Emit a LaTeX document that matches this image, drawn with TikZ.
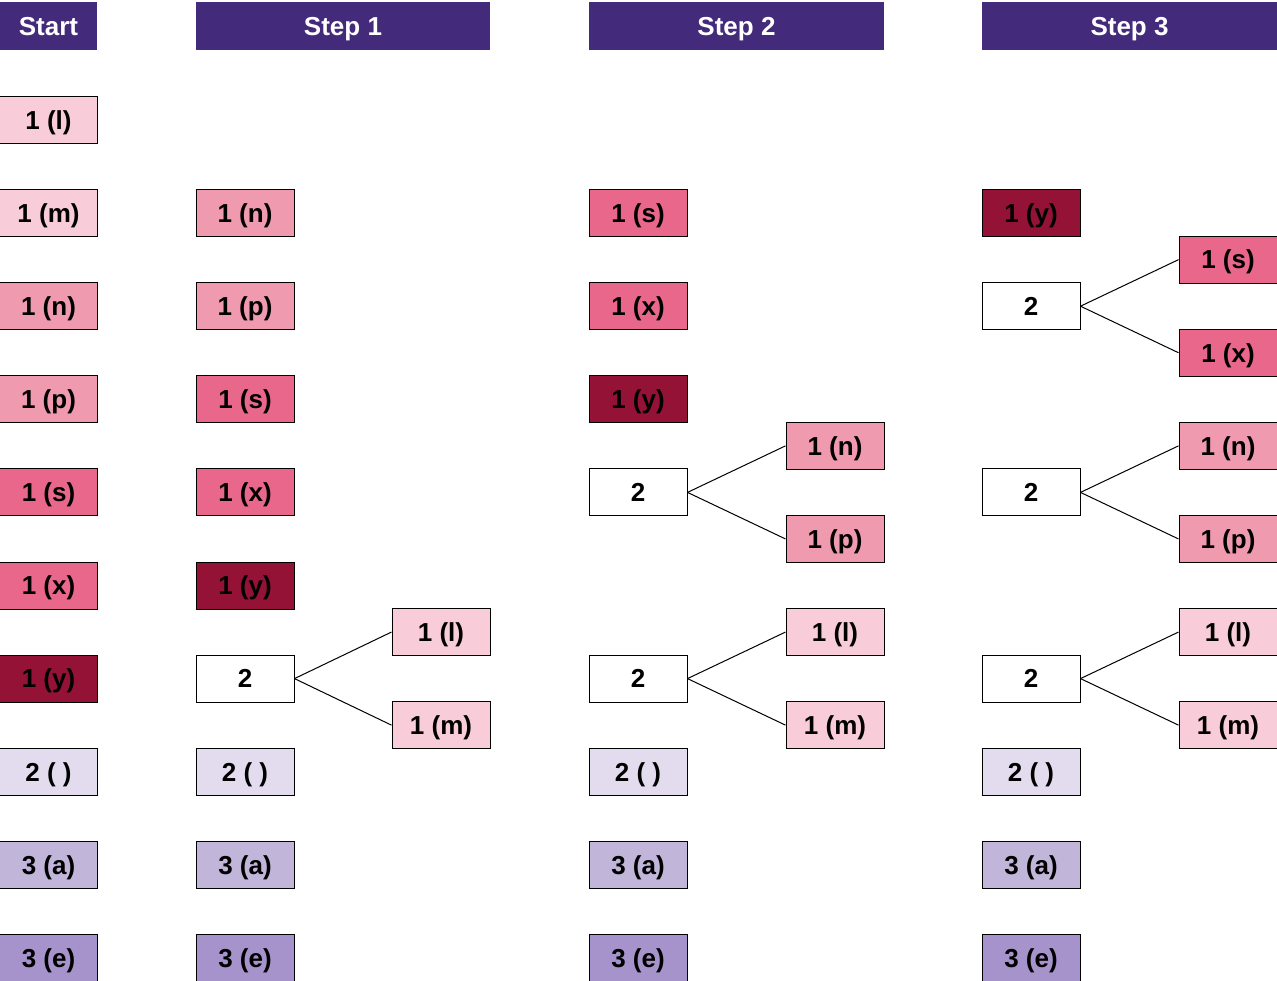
\documentclass[tikz,border=0pt]{standalone}
\usepackage{fontspec}
\setmainfont{Liberation Sans}
\definecolor{hdr}{HTML}{432A7A}
\definecolor{cl}{HTML}{F8CCD9}
\definecolor{cn}{HTML}{F09AB0}
\definecolor{cs}{HTML}{E9678A}
\definecolor{cy}{HTML}{931236}
\definecolor{ctwo}{HTML}{E2DCEE}
\definecolor{ca}{HTML}{C2B5DA}
\definecolor{ce}{HTML}{A793CB}
\tikzset{
  box/.style={draw=black, line width=1pt, minimum width=98pt, minimum height=47pt, inner sep=0pt,
    text height=18.6pt, text depth=0pt,
    font=\fontsize{26}{30}\selectfont\bfseries, text=black},
  hd/.style={fill=hdr, minimum height=48pt, inner sep=0pt, text height=18.6pt, text depth=0pt,
    text=white, font=\fontsize{26}{30}\selectfont\bfseries},
  bl/.style={box, fill=cl}, bn/.style={box, fill=cn}, bs/.style={box, fill=cs}, by/.style={box, fill=cy},
  bt/.style={box, fill=ctwo}, ba/.style={box, fill=ca}, be/.style={box, fill=ce}, bw/.style={box, fill=white},
  con/.style={draw=black, line width=1pt}
}
\begin{document}
\begin{tikzpicture}[x=1pt, y=-1pt]
\useasboundingbox (0,0) rectangle (1277,981);
\clip (0,0) rectangle (1277,981);
\def\R#1{\fpeval{120+93.1*(#1)}}
% headers
\node[hd, minimum width=97pt] (h0) at (48.5,26) {Start};
\node[hd, minimum width=294pt] (h1) at (343,26) {Step 1};
\node[hd, minimum width=295pt] (h2) at (736.5,26) {Step 2};
\node[hd, minimum width=295pt] (h3) at (1129.5,26) {Step 3};
% Start column
\node[bl] (s0) at (48.5,\R{0}) {1 (l)};
\node[bl] (s1) at (48.5,\R{1}) {1 (m)};
\node[bn] (s2) at (48.5,\R{2}) {1 (n)};
\node[bn] (s3) at (48.5,\R{3}) {1 (p)};
\node[bs] (s4) at (48.5,\R{4}) {1 (s)};
\node[bs] (s5) at (48.5,\R{5}) {1 (x)};
\node[by] (s6) at (48.5,\R{6}) {1 (y)};
\node[bt] (s7) at (48.5,\R{7}) {2 ( )};
\node[ba] (s8) at (48.5,\R{8}) {3 (a)};
\node[be] (s9) at (48.5,\R{9}) {3 (e)};
% Step 1
\node[bn] (a1) at (245,\R{1}) {1 (n)};
\node[bn] (a2) at (245,\R{2}) {1 (p)};
\node[bs] (a3) at (245,\R{3}) {1 (s)};
\node[bs] (a4) at (245,\R{4}) {1 (x)};
\node[by] (a5) at (245,\R{5}) {1 (y)};
\node[bw] (a6) at (245,\R{6}) {2};
\node[bl] (a6u) at (441,\R{5.5}) {1 (l)};
\node[bl] (a6d) at (441,\R{6.5}) {1 (m)};
\node[bt] (a7) at (245,\R{7}) {2 ( )};
\node[ba] (a8) at (245,\R{8}) {3 (a)};
\node[be] (a9) at (245,\R{9}) {3 (e)};
\draw[con] (a6.east) -- (a6u.west);
\draw[con] (a6.east) -- (a6d.west);
% Step 2
\node[bs] (b1) at (638,\R{1}) {1 (s)};
\node[bs] (b2) at (638,\R{2}) {1 (x)};
\node[by] (b3) at (638,\R{3}) {1 (y)};
\node[bw] (b4) at (638,\R{4}) {2};
\node[bn] (b4u) at (835,\R{3.5}) {1 (n)};
\node[bn] (b4d) at (835,\R{4.5}) {1 (p)};
\node[bw] (b6) at (638,\R{6}) {2};
\node[bl] (b6u) at (835,\R{5.5}) {1 (l)};
\node[bl] (b6d) at (835,\R{6.5}) {1 (m)};
\node[bt] (b7) at (638,\R{7}) {2 ( )};
\node[ba] (b8) at (638,\R{8}) {3 (a)};
\node[be] (b9) at (638,\R{9}) {3 (e)};
\draw[con] (b4.east) -- (b4u.west);
\draw[con] (b4.east) -- (b4d.west);
\draw[con] (b6.east) -- (b6u.west);
\draw[con] (b6.east) -- (b6d.west);
% Step 3
\node[by] (c1) at (1031,\R{1}) {1 (y)};
\node[bw] (c2) at (1031,\R{2}) {2};
\node[bs] (c2u) at (1228,\R{1.5}) {1 (s)};
\node[bs] (c2d) at (1228,\R{2.5}) {1 (x)};
\node[bw] (c4) at (1031,\R{4}) {2};
\node[bn] (c4u) at (1228,\R{3.5}) {1 (n)};
\node[bn] (c4d) at (1228,\R{4.5}) {1 (p)};
\node[bw] (c6) at (1031,\R{6}) {2};
\node[bl] (c6u) at (1228,\R{5.5}) {1 (l)};
\node[bl] (c6d) at (1228,\R{6.5}) {1 (m)};
\node[bt] (c7) at (1031,\R{7}) {2 ( )};
\node[ba] (c8) at (1031,\R{8}) {3 (a)};
\node[be] (c9) at (1031,\R{9}) {3 (e)};
\draw[con] (c2.east) -- (c2u.west);
\draw[con] (c2.east) -- (c2d.west);
\draw[con] (c4.east) -- (c4u.west);
\draw[con] (c4.east) -- (c4d.west);
\draw[con] (c6.east) -- (c6u.west);
\draw[con] (c6.east) -- (c6d.west);
\end{tikzpicture}
\end{document}
